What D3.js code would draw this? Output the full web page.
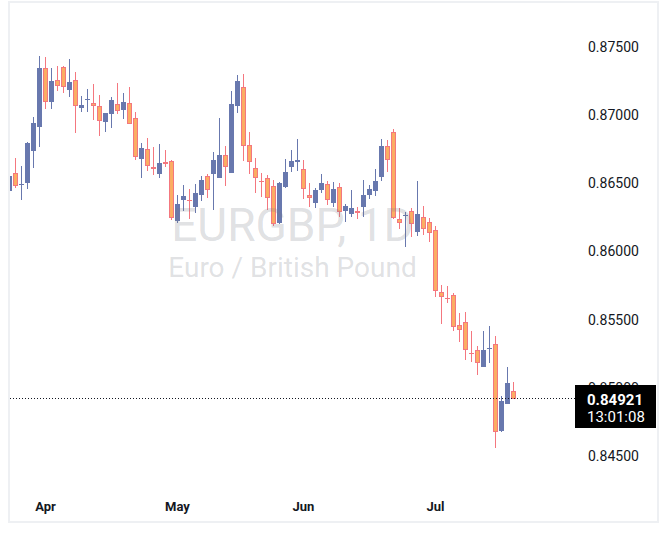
<!DOCTYPE html>
<html>
<head>
<meta charset="utf-8">
<script src="https://cdn.jsdelivr.net/npm/d3@7"></script>
<style>
  html, body { margin: 0; padding: 0; background: #fff; }
  svg { display: block; }
</style>
</head>
<body>
<div id="chart"></div>
<script>
// EURGBP daily candles
const opens = [0.86446, 0.86574, 0.86490, 0.86505, 0.86739, 0.86915, 0.87346, 0.87099, 0.87258, 0.87351,
  0.87187, 0.87256, 0.87055, 0.87111, 0.87089, 0.87065, 0.86948, 0.87006, 0.87080, 0.87038,
  0.87087, 0.86977, 0.86681, 0.86750, 0.86620, 0.86571, 0.86656, 0.86664, 0.86222, 0.86380,
  0.86378, 0.86329, 0.86414, 0.86554, 0.86571, 0.86541, 0.86706, 0.86578, 0.87069, 0.87207,
  0.86779, 0.86610, 0.86515, 0.86537, 0.86478, 0.86211, 0.86475, 0.86622, 0.86654, 0.86605,
  0.86414, 0.86358, 0.86453, 0.86493, 0.86358, 0.86471, 0.86299, 0.86277, 0.86297, 0.86329,
  0.86412, 0.86446, 0.86549, 0.86774, 0.86874, 0.86236, 0.86260, 0.86297, 0.86145, 0.86251,
  0.86214, 0.86155, 0.85701, 0.85657, 0.85679, 0.85461, 0.85481, 0.85258, 0.85275, 0.85155,
  0.85283, 0.85321, 0.84686, 0.84884, 0.84975]
const highs = [0.86598, 0.86688, 0.86627, 0.86803, 0.86987, 0.87434, 0.87429, 0.87346, 0.87363, 0.87363,
  0.87412, 0.87317, 0.87141, 0.87192, 0.87229, 0.87148, 0.87016, 0.87135, 0.87236, 0.87163,
  0.87207, 0.87023, 0.86796, 0.86833, 0.86767, 0.86789, 0.86747, 0.86673, 0.86412, 0.86486,
  0.86458, 0.86495, 0.86554, 0.86568, 0.86730, 0.86979, 0.86774, 0.87177, 0.87295, 0.87302,
  0.86877, 0.86686, 0.86574, 0.86561, 0.86524, 0.86508, 0.86679, 0.86745, 0.86825, 0.86671,
  0.86505, 0.86468, 0.86568, 0.86517, 0.86512, 0.86505, 0.86346, 0.86451, 0.86324, 0.86522,
  0.86488, 0.86607, 0.86827, 0.86820, 0.86896, 0.86317, 0.86288, 0.86321, 0.86515, 0.86334,
  0.86244, 0.86187, 0.85754, 0.85747, 0.85693, 0.85549, 0.85556, 0.85417, 0.85307, 0.85417,
  0.85454, 0.85380, 0.84940, 0.85153, 0.85045]
const lows = [0.86414, 0.86464, 0.86378, 0.86456, 0.86610, 0.86769, 0.87047, 0.87045, 0.87177, 0.87165,
  0.87131, 0.86871, 0.87021, 0.87021, 0.86967, 0.86849, 0.86879, 0.86908, 0.87011, 0.86972,
  0.86933, 0.86673, 0.86541, 0.86588, 0.86563, 0.86541, 0.86622, 0.86233, 0.86209, 0.86299,
  0.86241, 0.86285, 0.86373, 0.86395, 0.86307, 0.86541, 0.86483, 0.86578, 0.87018, 0.86662,
  0.86571, 0.86431, 0.86402, 0.86304, 0.86189, 0.86200, 0.86468, 0.86583, 0.86590, 0.86383,
  0.86329, 0.86321, 0.86431, 0.86341, 0.86329, 0.86255, 0.86219, 0.86255, 0.86241, 0.86255,
  0.86387, 0.86407, 0.86515, 0.86581, 0.86238, 0.86163, 0.86035, 0.86109, 0.86116, 0.86119,
  0.86072, 0.85668, 0.85468, 0.85624, 0.85419, 0.85338, 0.85204, 0.85189, 0.85094, 0.85155,
  0.85184, 0.84561, 0.84678, 0.84884, 0.84921]
const closes = [0.86554, 0.86483, 0.86497, 0.86796, 0.86943, 0.87346, 0.87099, 0.87251, 0.87216, 0.87204,
  0.87243, 0.87065, 0.87075, 0.87119, 0.87065, 0.86955, 0.87016, 0.87111, 0.87028, 0.87094,
  0.86933, 0.86695, 0.86759, 0.86625, 0.86607, 0.86647, 0.86644, 0.86244, 0.86348, 0.86407,
  0.86370, 0.86429, 0.86524, 0.86453, 0.86671, 0.86708, 0.86618, 0.87082, 0.87251, 0.86772,
  0.86654, 0.86539, 0.86510, 0.86390, 0.86200, 0.86500, 0.86581, 0.86664, 0.86671, 0.86456,
  0.86390, 0.86449, 0.86502, 0.86376, 0.86458, 0.86288, 0.86334, 0.86319, 0.86280, 0.86414,
  0.86458, 0.86517, 0.86774, 0.86669, 0.86248, 0.86207, 0.86268, 0.86200, 0.86273, 0.86163,
  0.86134, 0.85708, 0.85664, 0.85654, 0.85448, 0.85422, 0.85275, 0.85253, 0.85180, 0.85275,
  0.85292, 0.84674, 0.84903, 0.85035, 0.84921]

// month starts, as candle index
const monthIndex = [6, 28, 49, 71]
const monthLabels = ['Apr', 'May', 'Jun', 'Jul']

const priceTicks = [0.845, 0.85, 0.855, 0.86, 0.865, 0.87, 0.875]

const lastPrice = 0.84921
const countdown = '13:01:08'
const symbolText = 'EURGBP, 1D'
const descText = 'Euro / British Pound'

const width = 670
const height = 538

const upColor = '#6878ae'
const downFill = '#fbad63'
const downLine = '#f4777f'
const textColor = '#131722'

const candles = opens.map((o, i) => ({
  o: o,
  h: highs[i],
  l: lows[i],
  c: closes[i],
  i: i
}))

const x = d3.scaleLinear().domain([0, candles.length - 1]).range([9.5, 9.5 + 6 * (candles.length - 1)])
const y = d3.scaleLinear().domain([0.845, 0.875]).range([456, 47])

const svg = d3
  .select('#chart')
  .append('svg')
  .attr('width', width)
  .attr('height', height)
  .attr('viewBox', [0, 0, width, height])
  .style('font-family', 'Roboto, sans-serif')

svg.append('rect').attr('width', width).attr('height', height).attr('fill', '#fff')

svg
  .append('defs')
  .append('clipPath')
  .attr('id', 'plot')
  .append('rect')
  .attr('x', 10)
  .attr('y', 3)
  .attr('width', 565)
  .attr('height', 490)

const plot = svg.append('g').attr('clip-path', 'url(#plot)')

const up = d => d.c >= d.o

// wicks
plot
  .selectAll('line.wick')
  .data(candles)
  .enter()
  .append('line')
  .attr('class', 'wick')
  .attr('x1', d => x(d.i))
  .attr('x2', d => x(d.i))
  .attr('y1', d => Math.round(y(d.h)))
  .attr('y2', d => Math.round(y(d.l)))
  .attr('stroke', d => (up(d) ? upColor : downLine))
  .attr('stroke-width', 1)

const bodyTop = d => Math.round(y(Math.max(d.o, d.c)))
const bodyH = d => Math.max(1, Math.round(y(Math.min(d.o, d.c))) - bodyTop(d))

// body outline
plot
  .selectAll('rect.body')
  .data(candles)
  .enter()
  .append('rect')
  .attr('class', 'body')
  .attr('x', d => x(d.i) - 2.5)
  .attr('y', bodyTop)
  .attr('width', 5)
  .attr('height', bodyH)
  .attr('fill', d => (up(d) ? upColor : downLine))

// body fill for falling candles
plot
  .selectAll('rect.fill')
  .data(candles.filter(d => !up(d) && bodyH(d) > 2))
  .enter()
  .append('rect')
  .attr('class', 'fill')
  .attr('x', d => x(d.i) - 1.5)
  .attr('y', d => bodyTop(d) + 1)
  .attr('width', 3)
  .attr('height', d => bodyH(d) - 2)
  .attr('fill', downFill)

// watermark sits over the candles
const wm = svg.append('g').attr('fill', '#787b86').attr('fill-opacity', 0.24).attr('text-anchor', 'middle')
wm.append('text').attr('x', 292.5).attr('y', 240.5).attr('font-size', 46).text(symbolText)
wm.append('text').attr('x', 292.5).attr('y', 277).attr('font-size', 28).text(descText)

// last price dotted line
const ly = Math.floor(y(lastPrice)) + 0.5
svg
  .append('line')
  .attr('x1', 10)
  .attr('x2', 575)
  .attr('y1', ly)
  .attr('y2', ly)
  .attr('stroke', textColor)
  .attr('stroke-dasharray', '1,2')

// price axis
svg
  .append('g')
  .selectAll('text')
  .data(priceTicks)
  .enter()
  .append('text')
  .attr('x', 588)
  .attr('y', d => y(d))
  .attr('dy', '0.35em')
  .attr('font-size', 14)
  .attr('fill', textColor)
  .text(d => d3.format('.5f')(d))

// time axis
svg
  .append('g')
  .selectAll('text')
  .data(monthIndex)
  .enter()
  .append('text')
  .attr('x', d => x(d))
  .attr('y', 506)
  .attr('dy', '0.35em')
  .attr('text-anchor', 'middle')
  .attr('font-size', 13)
  .attr('font-weight', 'bold')
  .attr('fill', textColor)
  .text((d, i) => monthLabels[i])

// last price label
const tag = svg.append('g')
tag.append('rect').attr('x', 575).attr('y', 385).attr('width', 81).attr('height', 43).attr('fill', '#000')
tag
  .append('text')
  .attr('x', 587)
  .attr('y', 400)
  .attr('dy', '0.35em')
  .attr('font-size', 15)
  .attr('font-weight', 'bold')
  .attr('fill', '#fff')
  .text(lastPrice.toFixed(5))
tag
  .append('text')
  .attr('x', 587)
  .attr('y', 417)
  .attr('dy', '0.35em')
  .attr('font-size', 15)
  .attr('fill', '#fff')
  .text(countdown)

// outer frame
svg
  .append('rect')
  .attr('x', 9)
  .attr('y', 2)
  .attr('width', 649)
  .attr('height', 520)
  .attr('fill', 'none')
  .attr('stroke', '#eef0f3')
  .attr('stroke-width', 2)
</script>
</body>
</html>
